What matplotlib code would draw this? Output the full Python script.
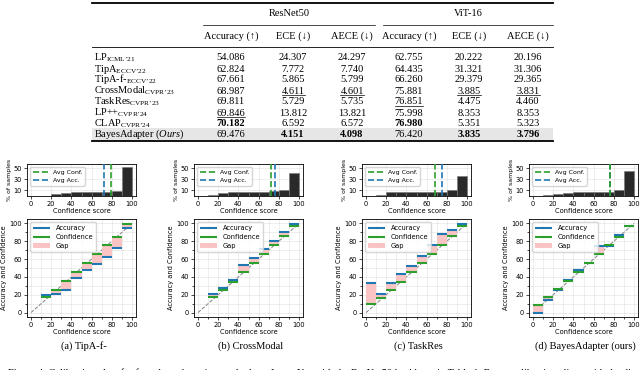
import numpy as np
import matplotlib
matplotlib.use('Agg')
import matplotlib.pyplot as plt
from matplotlib.patches import Rectangle
from matplotlib.ticker import MultipleLocator

plt.rcParams['mathtext.fontset'] = 'custom'
plt.rcParams['mathtext.rm'] = 'Liberation Serif'
plt.rcParams['mathtext.it'] = 'Liberation Serif:italic'
plt.rcParams['mathtext.bf'] = 'Liberation Serif:bold'

# ---- table data ----
methods = ['LP', 'TipA', 'TipA-f-', 'CrossModal', 'TaskRes', 'LP++', 'CLAP', 'BayesAdapter']
venues = ["ICML\u201921", "ECCV\u201922", "ECCV\u201922", "CVPR\u201923", "CVPR\u201923",
          "CVPR\u201924", "CVPR\u201924", None]
rn_acc = [54.086, 62.824, 67.661, 68.987, 69.811, 69.846, 70.182, 69.476]
rn_ece = [24.307, 7.772, 5.865, 4.611, 5.729, 13.812, 6.592, 4.151]
rn_aece = [24.297, 7.740, 5.799, 4.601, 5.735, 13.821, 6.572, 4.098]
vit_acc = [62.755, 64.435, 66.260, 75.881, 76.851, 75.998, 76.980, 76.420]
vit_ece = [20.222, 31.321, 29.379, 3.885, 4.475, 8.353, 5.351, 3.835]
vit_aece = [20.196, 31.306, 29.365, 3.831, 4.460, 8.353, 5.323, 3.796]
col_heads = ['Accuracy (\u2191)', 'ECE (\u2193)', 'AECE (\u2193)'] * 2
backbones = ['ResNet50', 'ViT-16']

# ---- calibration plot data ----
panel_names = ['(a) TipA-f-', '(b) CrossModal', '(c) TaskRes', '(d) BayesAdapter (ours)']
bin_edges = np.arange(0, 101, 10)
hist_a = [0, 0.5, 3, 5.5, 7.4, 7.4, 7.4, 8, 8.6, 52]
hist_b = [0, 1.5, 5.5, 8, 8, 8, 8, 8.5, 10.5, 42]
hist_c = [0, 2, 7, 7.5, 7.5, 7.5, 7.5, 7.5, 10, 37]
hist_d = [0, 1, 4, 5.5, 6.5, 7, 7, 7.5, 10, 46]
avg_conf = [79, 72.5, 68.5, 76.5]
avg_acc = [72, 76.5, 75.5, 76.3]
nan = np.nan
acc_a = [nan, 20, 21, 25.6, 38.3, 48.1, 54.1, 62, 72.6, 94.7]
conf_a = [nan, 17.3, 25.6, 35.3, 45.5, 55.3, 65.4, 75.6, 85.3, 98.9]
acc_b = [nan, 20.8, 27.9, 36.6, 53.2, 60.8, 70.9, 80.4, 90.9, 99.2]
conf_b = [nan, 17, 25.3, 34.7, 45.3, 55.1, 65.3, 75.5, 86, 97.4]
acc_c = [33.2, 20.8, 33.2, 43, 51.7, 63, 75.8, 87.9, 92.8, 99.2]
conf_c = [9.4, 16.6, 25.3, 34.7, 45.3, 55.1, 65.3, 75.5, 86, 97.4]
acc_d = [0, 14.3, 25.5, 36.6, 47.9, 55.3, 74.7, 75.2, 86.8, 97.5]
conf_d = [8.3, 17, 26, 35, 46, 55.6, 65.7, 75.6, 85.3, 97.7]

hists = [hist_a, hist_b, hist_c, hist_d]
accs = [acc_a, acc_b, acc_c, acc_d]
confs = [conf_a, conf_b, conf_c, conf_d]

BLUE = '#1f77b4'
GREEN = '#2ca02c'
PINK = '#fbc4c4'
W, H = 640, 370
serif = ['Liberation Serif', 'DejaVu Serif']


def px_rect(l, t, r, b):
    return [l / W, 1 - b / H, (r - l) / W, (b - t) / H]


def main():
    fig = plt.figure(figsize=(6.4, 3.7), dpi=100)
    tab = fig.add_axes([0, 0, 1, 1])
    tab.set_xlim(0, W)
    tab.set_ylim(H, 0)
    tab.axis('off')

    fs = 7.5
    x0, x1 = 92, 553
    col_x = [231, 293, 352, 409, 469, 528]
    # baselines of the body rows
    row_y = [60.5, 71.5, 82.5, 93.5, 104.5, 115.5, 126.5, 137]

    # rules
    tab.add_patch(Rectangle((x0, 128), x1 - x0, 12.5, color='#e6e6e6', lw=0))
    tab.plot([x0, x1], [2.5, 2.5], color='k', lw=1.3)
    tab.plot([203, 375], [24.5, 24.5], color='k', lw=0.5)
    tab.plot([383, x1], [24.5, 24.5], color='k', lw=0.5)
    tab.plot([x0, x1], [47, 47], color='k', lw=0.6)
    tab.plot([x0, x1], [141, 141], color='k', lw=1.3)

    tab.text(289, 13, backbones[0], ha='center', va='center', fontsize=fs, family=serif)
    tab.text(468, 13, backbones[1], ha='center', va='center', fontsize=fs, family=serif)
    for x, h in zip(col_x, col_heads):
        tab.text(x, 36, h, ha='center', va='center', fontsize=fs, family=serif)

    for m, v, y in zip(methods, venues, row_y):
        if v is None:
            label = m + r' ($\mathit{Ours}$)'
        else:
            label = m + r'$_{\mathrm{' + v + '}}$'
        tab.text(94, y, label, ha='left', va='baseline', fontsize=fs, family=serif)

    cols = [rn_acc, rn_ece, rn_aece, vit_acc, vit_ece, vit_aece]
    higher_better = [True, False, False, True, False, False]
    underlined = []
    for x, vals, hb in zip(col_x, cols, higher_better):
        order = np.argsort(vals)
        if hb:
            order = order[::-1]
        best, second = order[0], order[1]
        for i, (val, y) in enumerate(zip(vals, row_y)):
            t = tab.text(x, y, '%.3f' % val, ha='center', va='baseline', fontsize=fs,
                         family=serif, weight='bold' if i == best else 'normal')
            if i == second:
                underlined.append((t, y))

    # bottom caption (mostly cut off in the source)
    tab.text(8, 368.5, 'Figure 4: Calibration plots for few-shot adaptation methods '
             'on ImageNet with the ResNet50 backbone in Table 1. Better calibration '
             'aligns with the diagonal.', ha='left', va='top', fontsize=7.5, family=serif)

    col_left = [27, 194, 362, 529]
    pw = 109
    centers = bin_edges[:-1] + 5
    for k in range(4):
        l = col_left[k]
        hax = fig.add_axes(px_rect(l, 164, l + pw, 196))
        hax.bar(centers, hists[k], width=10, color='#2a2a2a', edgecolor='#777777',
                lw=0.4, zorder=2)
        hax.axvline(avg_conf[k], color=GREEN, ls='--', lw=1.2, label='Avg Conf.', zorder=4)
        hax.axvline(avg_acc[k], color=BLUE, ls='--', lw=1.2, label='Avg Acc.', zorder=3)
        hax.set_xlim(-4, 104)
        hax.set_ylim(0, 58)
        hax.set_xticks(range(0, 101, 20))
        hax.set_yticks([10, 30, 50])
        hax.grid(alpha=0.3, lw=0.5)
        hax.set_xlabel('Confidence score', fontsize=4.8, labelpad=1)
        hax.set_ylabel('% of samples', fontsize=4.5, labelpad=1)
        hax.tick_params(labelsize=4.8, length=2, pad=1.5, width=0.5)
        for s in hax.spines.values():
            s.set_linewidth(0.6)
        hax.legend(loc='upper left', fontsize=4.5, handlelength=2.4, borderpad=0.4,
                   labelspacing=0.45, framealpha=0.8, edgecolor='#cccccc')

        rax = fig.add_axes(px_rect(l, 219, l + pw, 317))
        acc = np.array(accs[k], dtype=float)
        conf = np.array(confs[k], dtype=float)
        ok = ~np.isnan(acc)
        lo = np.minimum(acc, conf)[ok]
        gap = np.abs(acc - conf)[ok]
        rax.bar(centers[ok], gap, bottom=lo, width=10, color=PINK, label='Gap', zorder=2)
        rax.plot([0, 100], [0, 100], ls='--', color='gray', lw=0.7, zorder=1)
        rax.hlines(acc[ok], bin_edges[:-1][ok], bin_edges[1:][ok], color=BLUE, lw=1.5,
                   label='Accuracy', zorder=3)
        rax.hlines(conf[ok], bin_edges[:-1][ok], bin_edges[1:][ok], color=GREEN, lw=1.5,
                   label='Confidence', zorder=4)
        rax.set_xlim(-4, 104)
        rax.set_ylim(-5, 105)
        rax.set_xticks(range(0, 101, 20))
        rax.set_yticks(range(0, 101, 20))
        rax.xaxis.set_minor_locator(MultipleLocator(10))
        rax.yaxis.set_minor_locator(MultipleLocator(10))
        rax.grid(which='both', alpha=0.3, lw=0.5)
        rax.set_xlabel('Confidence score', fontsize=4.8, labelpad=1)
        rax.set_ylabel('Accuracy and Confidence', fontsize=4.8, labelpad=1.5)
        rax.tick_params(which='both', labelsize=4.8, length=2, pad=1.5, width=0.5)
        rax.tick_params(which='minor', length=1.2)
        for s in rax.spines.values():
            s.set_linewidth(0.6)
        handles, labels = rax.get_legend_handles_labels()
        order = [labels.index(n) for n in ['Accuracy', 'Confidence', 'Gap']]
        rax.legend([handles[i] for i in order], [labels[i] for i in order],
                   loc='upper left', fontsize=4.8, handlelength=2.6, borderpad=0.4,
                   labelspacing=0.45, framealpha=0.8, edgecolor='#cccccc')

        tab.text(l + pw / 2 + 2, 346, panel_names[k], ha='center', va='center',
                 fontsize=7.5, family=serif)

    # underline second-best numbers, just under the baseline
    fig.canvas.draw()
    inv = tab.transData.inverted()
    for t, y in underlined:
        bb = t.get_window_extent()
        (ax0, _), (ax1, _) = inv.transform([(bb.x0, bb.y0), (bb.x1, bb.y1)])
        tab.plot([ax0, ax1], [y + 1.6, y + 1.6], color='k', lw=0.5)

    tab.set_zorder(-1)
    fig.savefig('out.png', dpi=100)


if __name__ == '__main__':
    main()
